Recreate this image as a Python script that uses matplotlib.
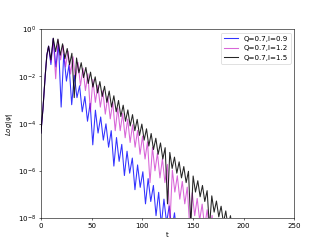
import numpy as np
import matplotlib
matplotlib.use('Agg')
import matplotlib.pyplot as plt
from matplotlib.ticker import NullLocator

# log10|psi|: alternating peaks and dips of each ringdown
t_black = [0, 2.0, 4.3, 5.9, 7.6, 9.9, 12.2, 14.5, 16.8, 19.1, 21.4, 23.7, 26.0, 28.3,
           30.6, 32.9, 35.2, 37.5, 39.8, 42.1, 44.4, 46.7, 49.0, 51.3, 53.6, 55.9, 58.2,
           60.5, 62.8, 65.1, 67.4, 69.7, 72.0, 74.3, 76.6, 78.9, 81.2, 83.5, 85.8, 88.1,
           90.4, 92.7, 95.0, 97.3, 99.6, 101.9, 104.2, 106.5, 108.8, 111.1, 113.4, 115.7,
           118.0, 120.3, 122.6, 124.9, 127.2, 129.5, 131.8, 134.1, 136.4, 138.7, 141.0,
           143.3, 145.6, 147.9, 150.2, 152.5, 154.8, 157.1, 159.4, 161.7, 164.0, 166.3,
           168.6, 170.9, 173.2, 175.5, 177.8, 180.1, 182.4, 184.7, 187.0, 189.3]
v_black = [-4.4, -3.4, -1.95, -1.1, -0.72, -1.3, -0.38, -0.95, -0.42, -1.1, -0.62, -1.25,
           -0.82, -1.5, -1.02, -2.9, -1.22, -1.85, -1.42, -2.05, -1.62, -2.3, -1.82, -2.45,
           -2.02, -2.7, -2.22, -2.85, -2.42, -3.1, -2.62, -3.3, -2.82, -3.5, -3.02, -3.7,
           -3.22, -3.9, -3.42, -4.1, -3.62, -4.3, -3.82, -4.5, -4.02, -4.7, -4.22, -4.95,
           -4.42, -5.1, -4.62, -5.3, -4.82, -5.5, -5.02, -7.4, -5.22, -5.9, -5.42, -6.1,
           -5.62, -6.3, -5.82, -6.5, -6.02, -8.3, -6.22, -6.9, -6.42, -7.1, -6.62, -7.3,
           -6.84, -8.4, -7.06, -7.75, -7.28, -7.95, -7.5, -8.2, -7.7, -8.4, -7.9, -8.6]

t_mag = [0, 2.0, 4.3, 5.9, 7.6, 9.9, 12.2, 14.6, 17.0, 19.45, 21.9, 24.35, 26.8, 29.25,
         31.7, 34.15, 36.6, 39.05, 41.5, 43.95, 46.4, 48.85, 51.3, 53.75, 56.2, 58.65,
         61.1, 63.55, 66.0, 68.45, 70.9, 73.35, 75.8, 78.25, 80.7, 83.15, 85.6, 88.05,
         90.5, 92.95, 95.4, 97.85, 100.3, 102.75, 105.2, 107.65, 110.1, 112.55, 115.0,
         117.45, 119.9, 122.35, 124.8, 127.25, 129.7, 132.15, 134.6, 137.05, 139.5,
         141.95, 144.4, 146.85, 149.3, 151.75, 154.2, 156.65, 159.1, 161.55, 164.0,
         166.45, 168.9, 171.0]
v_mag = [-4.4, -3.4, -1.95, -1.1, -0.72, -1.4, -0.4, -2.1, -0.45, -1.3, -0.69, -1.6,
         -0.93, -1.9, -1.17, -2.1, -1.41, -2.4, -1.65, -2.6, -1.89, -3.5, -2.13, -3.1,
         -2.37, -3.3, -2.61, -3.6, -2.85, -3.8, -3.09, -4.3, -3.33, -4.3, -3.57, -4.6,
         -3.81, -4.8, -4.05, -5.0, -4.29, -5.3, -4.53, -5.5, -4.77, -6.5, -5.01, -6.0,
         -5.25, -6.3, -5.49, -6.5, -5.73, -8.3, -5.97, -6.9, -6.21, -7.2, -6.45, -7.4,
         -6.69, -8.4, -6.93, -7.9, -7.17, -8.1, -7.41, -8.4, -7.65, -8.5, -7.89, -9.0]

t_blue = [0, 2.0, 4.3, 5.9, 7.6, 9.9, 12.2, 14.8, 17.4, 20.0, 22.6, 25.2, 27.8, 30.4,
          33.0, 35.6, 38.2, 40.8, 43.4, 46.0, 48.6, 51.2, 53.8, 56.4, 59.0, 61.6, 64.2,
          66.8, 69.4, 72.0, 74.6, 77.2, 79.8, 82.4, 85.0, 87.6, 90.2, 92.8, 95.4, 98.0,
          100.6, 103.2, 105.8, 108.4, 111.0, 113.6, 116.2, 118.8, 121.4, 124.0, 126.6,
          129.2, 131.8, 134.4, 137.0]
v_blue = [-4.4, -3.4, -1.95, -1.1, -0.72, -1.5, -0.4, -1.6, -0.62, -3.3, -1.05, -2.2,
          -1.5, -3.2, -1.95, -2.9, -2.4, -3.5, -2.85, -3.9, -3.14, -4.9, -3.43, -4.4,
          -3.72, -4.7, -4.01, -5.0, -4.3, -5.8, -4.59, -5.6, -4.88, -6.2, -5.17, -6.1,
          -5.46, -6.8, -5.75, -6.7, -6.04, -7.4, -6.33, -7.3, -6.62, -7.9, -6.91, -8.3,
          -7.2, -8.2, -7.49, -8.5, -7.78, -8.8, -8.07]

labels = ['Q=0.7,l=0.9', 'Q=0.7,l=1.2', 'Q=0.7,l=1.5']
yticks = [1e0, 1e-2, 1e-4, 1e-6, 1e-8]

fig = plt.figure(figsize=(6.4, 4.8))
ax = plt.gca()
ax.plot(t_blue, 10.0 ** np.array(v_blue), color='b', alpha=0.8, label=labels[0])
ax.plot(t_mag, 10.0 ** np.array(v_mag), color='m', alpha=0.6, label=labels[1])
ax.plot(t_black, 10.0 ** np.array(v_black), color='k', alpha=0.85, label=labels[2])
ax.set_yscale('log')
ax.set_xlim(0, 250)
ax.set_ylim(1e-8, 1)
ax.set_yticks(yticks)
ax.yaxis.set_minor_locator(NullLocator())
ax.set_xlabel('t')
ax.set_ylabel(r'$Log|\psi|$')
ax.legend(loc='upper right')

fig.savefig('out.png', dpi=327 / 6.4)
